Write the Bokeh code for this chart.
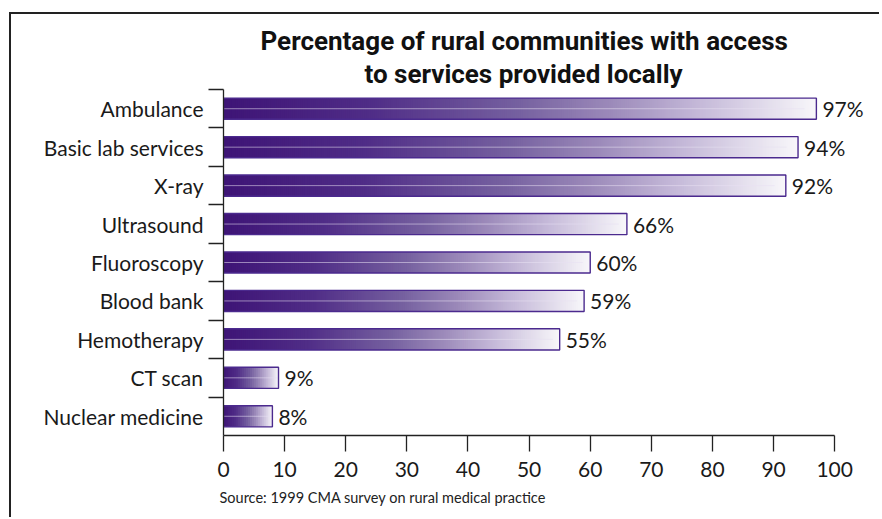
from bokeh.plotting import figure
from bokeh.models import Range1d, FixedTicker, Title
from bokeh.core.properties import value
from bokeh.embed import file_html
from bokeh.resources import INLINE

services = ["Ambulance", "Basic lab services", "X-ray", "Ultrasound", "Fluoroscopy",
            "Blood bank", "Hemotherapy", "CT scan", "Nuclear medicine"]
percent = [97, 94, 92, 66, 60, 59, 55, 9, 8]
x_ticks = [0, 10, 20, 30, 40, 50, 60, 70, 80, 90, 100]
title_lines = ["Percentage of rural communities with access", "to services provided locally"]
source_text = "Source: 1999 CMA survey on rural medical practice"

# gradient colour stops (style)
stops = [(0.0, (62, 20, 118)), (0.25, (80, 45, 135)), (0.5, (118, 97, 160)),
         (0.65, (155, 137, 185)), (0.8, (196, 184, 216)), (1.0, (248, 247, 250))]

def grad(t):
    for (t0, c0), (t1, c1) in zip(stops[:-1], stops[1:]):
        if t <= t1:
            f = (t - t0) / (t1 - t0) if t1 > t0 else 0
            c = [round(a + (b - a) * f) for a, b in zip(c0, c1)]
            return "#%02x%02x%02x" % tuple(c)
    return "#%02x%02x%02x" % stops[-1][1]

n = len(services)
centers = [i + 0.5 for i in range(n)]
bar_h = 0.55

p = figure(width=870, height=505, output_backend="svg", toolbar_location=None,
           x_range=Range1d(0, 105.2), y_range=Range1d(n, 0),
           min_border_left=212, min_border_right=15, min_border_top=75, min_border_bottom=84,
           styles={"border-top": "2px solid #222", "border-left": "2px solid #222",
                   "margin-left": "9px", "margin-top": "12px"})
p.outline_line_color = None
p.grid.visible = False
p.background_fill_color = "white"
p.border_fill_color = "white"

# gradient slices (about 2 px each)
L, R, T, B, C = [], [], [], [], []
for i, v in enumerate(percent):
    N = max(10, round(v * 3))
    w = v / N
    for k in range(N):
        L.append(w * k)
        R.append(min(v, w * (k + 2)))
        T.append(centers[i] - bar_h / 2)
        B.append(centers[i] + bar_h / 2)
        C.append(grad((k + 0.5) / N))
p.quad(left=L, right=R, top=T, bottom=B, fill_color=C, line_color=None)

# highlight line in middle
p.segment(x0=[0] * n, x1=[v * 0.98 for v in percent], y0=centers, y1=centers,
          line_color="#e8e0f2", line_alpha=0.55, line_width=1)

# outlines
p.quad(left=[0] * n, right=percent, top=[c - bar_h / 2 for c in centers],
       bottom=[c + bar_h / 2 for c in centers], fill_color=None,
       line_color="#4b2a8e", line_width=1.4)

# value labels
p.text(x=percent, y=centers, text=[f"{v}%" for v in percent], x_offset=6,
       text_baseline="middle", text_align="left", text_font=value("Lato"),
       text_font_size="21px", text_color="#1a1a1a")

# x axis
xa = p.xaxis[0]
xa.ticker = FixedTicker(ticks=x_ticks)
xa.bounds = (0, 100)
xa.major_tick_in = 0
xa.major_tick_out = 16
xa.minor_tick_out = 0
xa.minor_tick_in = 0
xa.major_label_standoff = 10
xa.major_label_text_font = "Lato"
xa.major_label_text_font_size = "21px"
xa.major_label_text_color = "#1a1a1a"
xa.axis_line_color = "#222"
xa.major_tick_line_color = "#222"
xa.axis_line_width = 1.3
xa.major_tick_line_width = 1.3

# y axis
ya = p.yaxis[0]
ya.ticker = FixedTicker(ticks=centers, minor_ticks=list(range(n)))
ya.major_label_overrides = {c: s for c, s in zip(centers, services)}
ya.major_tick_in = 0
ya.major_tick_out = 0
ya.minor_tick_in = 0
ya.minor_tick_out = 15
ya.minor_tick_line_color = "#222"
ya.minor_tick_line_width = 1.3
ya.axis_line_color = "#222"
ya.axis_line_width = 1.3
ya.major_label_standoff = 5
ya.major_label_text_font = "Lato"
ya.major_label_text_font_size = "21px"
ya.major_label_text_color = "#1a1a1a"

# title lines (second line nearest the frame)
for ln, off in zip(reversed(title_lines), [141, 37]):
    p.add_layout(Title(text=ln, align="left", offset=off, standoff=1,
                       text_font="Roboto", text_font_style="bold",
                       text_font_size="26px", text_color="#111"), "above")

p.add_layout(Title(text=source_text, align="left", offset=-4, standoff=15,
                   text_font="Lato", text_font_style="normal",
                   text_font_size="14.5px", text_color="#222"), "below")

open("out.html", "w").write(file_html(p, INLINE))
